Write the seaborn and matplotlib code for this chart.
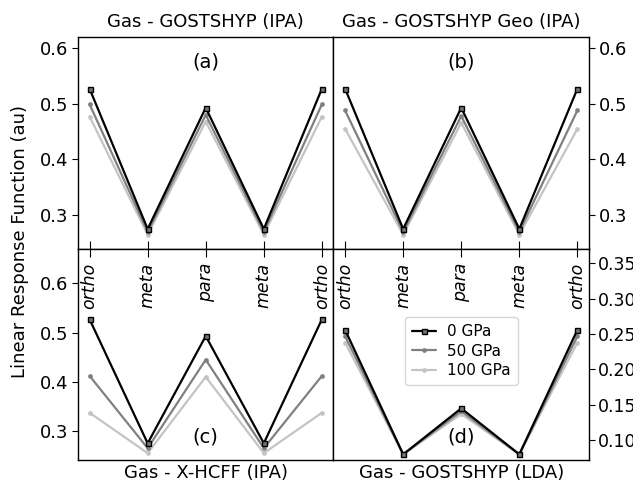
import matplotlib
matplotlib.use("Agg")
import matplotlib.pyplot as plt
import seaborn as sns
import pandas as pd

# Substitution positions around the ring
positions = ["ortho", "meta", "para", "meta", "ortho"]
pressures = ["0 GPa", "50 GPa", "100 GPa"]

# Linear response function values (au) per panel, one list per pressure
gostshyp_ipa = {
    "0 GPa":   [0.527, 0.275, 0.493, 0.275, 0.527],
    "50 GPa":  [0.499, 0.270, 0.480, 0.270, 0.499],
    "100 GPa": [0.477, 0.265, 0.468, 0.265, 0.477],
}
gostshyp_geo_ipa = {
    "0 GPa":   [0.527, 0.275, 0.493, 0.275, 0.527],
    "50 GPa":  [0.488, 0.270, 0.478, 0.270, 0.488],
    "100 GPa": [0.455, 0.265, 0.466, 0.265, 0.455],
}
xhcff_ipa = {
    "0 GPa":   [0.527, 0.275, 0.493, 0.275, 0.527],
    "50 GPa":  [0.412, 0.265, 0.445, 0.265, 0.412],
    "100 GPa": [0.337, 0.255, 0.410, 0.255, 0.337],
}
gostshyp_lda = {
    "0 GPa":   [0.256, 0.080, 0.145, 0.080, 0.256],
    "50 GPa":  [0.247, 0.080, 0.141, 0.080, 0.247],
    "100 GPa": [0.238, 0.080, 0.137, 0.080, 0.238],
}

styles = {
    "0 GPa":   dict(color="black", marker="s", markersize=3.6,
                    markerfacecolor="0.45", markeredgecolor="black",
                    markeredgewidth=1.0, lw=1.6, zorder=3),
    "50 GPa":  dict(color="#808080", marker="o", markersize=3.4,
                    markeredgewidth=0, lw=1.6, zorder=2),
    "100 GPa": dict(color="#c4c4c4", marker="o", markersize=3.4,
                    markeredgewidth=0, lw=1.6, zorder=1),
}

sns.set_style("ticks")
plt.rcParams["font.family"] = ["DejaVu Sans"]
plt.rcParams.update({"text.color": "black", "axes.labelcolor": "black",
                     "xtick.color": "black", "ytick.color": "black",
                     "axes.edgecolor": "black"})

fig = plt.figure(figsize=(6.33, 4.83), dpi=100)
gs = fig.add_gridspec(2, 2, left=0.1232, right=0.9305, top=0.9234, bottom=0.0476,
                      hspace=0, wspace=0)
axes = [[fig.add_subplot(gs[r, c]) for c in range(2)] for r in range(2)]

panels = [
    (axes[0][0], gostshyp_ipa, "Gas - GOSTSHYP (IPA)", "(a)", (0.24, 0.62)),
    (axes[0][1], gostshyp_geo_ipa, "Gas - GOSTSHYP Geo (IPA)", "(b)", (0.24, 0.62)),
    (axes[1][0], xhcff_ipa, "Gas - X-HCFF (IPA)", "(c)", (0.241, 0.671)),
    (axes[1][1], gostshyp_lda, "Gas - GOSTSHYP (LDA)", "(d)", (0.072, 0.371)),
]

idx = list(range(len(positions)))
for i, (ax, data, name, letter, ylim) in enumerate(panels):
    for p in pressures:
        df = pd.DataFrame({"pos": idx, "val": data[p]})
        sns.lineplot(data=df, x="pos", y="val", ax=ax, label=p, **styles[p])
    ax.set_ylim(*ylim)
    ax.set_xlim(-0.2, 4.2)
    ax.set_xticks(idx)
    ax.set_ylabel("")
    for s in ax.spines.values():
        s.set_visible(True)
        s.set_linewidth(1.0)
        s.set_color("black")
    top = i < 2
    right = i % 2 == 1
    if right:
        ax.yaxis.tick_right()
    ax.tick_params(axis="y", labelsize=13, length=4, pad=3)
    if top:
        ax.set_title(name, fontsize=13, pad=7)
        ax.set_xlabel("")
        ax.tick_params(axis="x", direction="in", length=6, labelbottom=False)
        ax.set_yticks([0.3, 0.4, 0.5, 0.6])
        ax.text(0.5, 0.88, letter, transform=ax.transAxes, ha="center",
                va="center", fontsize=14)
    else:
        ax.set_xlabel(name, fontsize=13, labelpad=3)
        ax.xaxis.tick_top()
        ax.tick_params(axis="x", direction="in", length=6, pad=-10,
                       labeltop=True, labelbottom=False, labelrotation=90,
                       labelsize=12.5)
        ax.set_xticklabels(positions, fontstyle="italic", va="top")
        if right:
            ax.set_yticks([0.10, 0.15, 0.20, 0.25, 0.30, 0.35])
            ax.set_yticklabels([f"{v:.2f}" for v in [0.10, 0.15, 0.20, 0.25, 0.30, 0.35]])
            ax.tick_params(axis="y", labelsize=12.5, pad=2.5)
        else:
            ax.set_yticks([0.3, 0.4, 0.5, 0.6])
        ax.text(0.5, 0.11, letter, transform=ax.transAxes, ha="center",
                va="center", fontsize=14)
    if ax.get_legend() is not None:
        ax.get_legend().remove()

leg = axes[1][1].legend(loc="center", bbox_to_anchor=(0.5, 0.515), fontsize=11,
                        handlelength=1.6, labelspacing=0.3, handletextpad=0.7,
                        borderpad=0.45, frameon=True)
leg.get_frame().set_edgecolor("0.8")

fig.text(0.032, 0.5, "Linear Response Function (au)", rotation=90,
         ha="center", va="center", fontsize=13)

fig.savefig("out.png", dpi=100)
